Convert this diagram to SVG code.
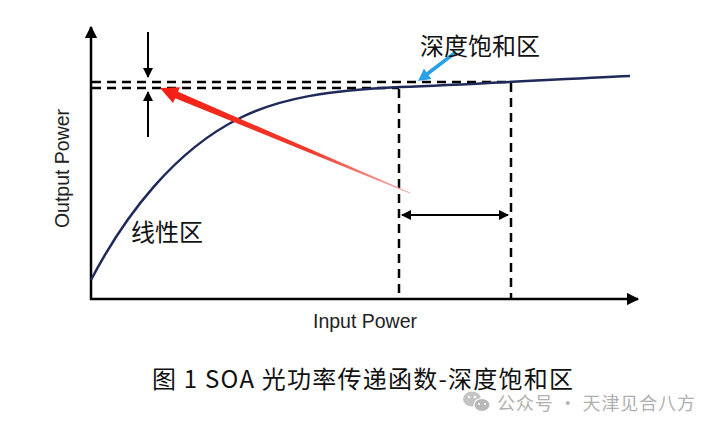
<svg xmlns="http://www.w3.org/2000/svg" width="720" height="430" viewBox="0 0 720 430">
<defs>
<style>
.axis{stroke:#000;stroke-width:2.5;fill:none}
.dash{stroke:#000;stroke-width:2.5;fill:none;stroke-dasharray:9 6}
.arr{stroke:#000;stroke-width:2;fill:none}
.cn{font-family:"Noto Sans CJK SC","Noto Sans",sans-serif;fill:#111}
.en{font-family:"Liberation Sans",Arial,sans-serif;fill:#222}
</style>
<marker id="ah" viewBox="0 0 10 10" refX="9" refY="5" markerWidth="5" markerHeight="5" orient="auto-start-reverse" markerUnits="strokeWidth">
<path d="M0,0 L10,5 L0,10 Z" fill="#000"/>
</marker>
<linearGradient id="redg" gradientUnits="userSpaceOnUse" x1="160" y1="88" x2="410" y2="193">
<stop offset="0" stop-color="#f41e14"/>
<stop offset="0.6" stop-color="#f03a2a"/>
<stop offset="1" stop-color="#f6b0b4"/>
</linearGradient>
</defs>
<rect width="720" height="430" fill="#fff"/>

<g id="axes">
<line class="axis" x1="91" y1="300" x2="91" y2="27" marker-end="url(#ah)"/>
<line class="axis" x1="90" y1="299" x2="638" y2="299" marker-end="url(#ah)"/>
</g>

<g id="guides">
<line class="dash" x1="92" y1="82" x2="512" y2="82"/>
<line class="dash" x1="92" y1="88" x2="399" y2="88"/>
<line class="dash" x1="399" y1="89" x2="399" y2="298"/>
<line class="dash" x1="511" y1="83" x2="511" y2="298"/>
</g>

<g id="curve">
<path d="M91,280 C125,215 175,150 240,118 C280,98 330,90 400,87 C480,84 560,79 630,76" fill="none" stroke="#1f2a5a" stroke-width="2.5"/>
</g>

<g id="connectors">
<line class="arr" x1="148" y1="32" x2="148" y2="77" marker-end="url(#ah)"/>
<line class="arr" x1="148" y1="137" x2="148" y2="92" marker-end="url(#ah)"/>
<line class="arr" x1="402" y1="215" x2="508" y2="215" marker-start="url(#ah)" marker-end="url(#ah)"/>
<polygon id="red-arrow" points="160,88 180,87.2 178,91.8 410.2,192.6 409.8,193.4 175.2,98.2 173,103" fill="url(#redg)"/>
<polygon id="blue-arrow" points="418,81 431.5,79 428.6,75.2 457,53.6 455,50.4 426.4,72.3 424,68.5" fill="#2aa0e8"/>
</g>

<g id="label-deep">
<text class="cn" x="420" y="55" font-size="24">深度饱和区</text>
</g>
<g id="label-linear">
<text class="cn" x="131" y="241" font-size="24">线性区</text>
</g>
<g id="label-y">
<text class="en" x="0" y="0" font-size="19.5" text-anchor="middle" transform="translate(69,168.5) rotate(-90)">Output Power</text>
</g>
<g id="label-x">
<text class="en" x="365" y="328" font-size="19.5" text-anchor="middle">Input Power</text>
</g>
<g id="caption">
<text class="cn" x="152" y="388" font-size="24" textLength="421" lengthAdjust="spacing">图 1 SOA 光功率传递函数-深度饱和区</text>
</g>
<g id="watermark">
<ellipse cx="472" cy="399" rx="9" ry="7.5" fill="#c4c4c4"/>
<ellipse cx="482" cy="405" rx="8" ry="6.5" fill="#b8b8b8" stroke="#fff" stroke-width="1.2"/>
<circle cx="469" cy="397" r="1.3" fill="#fff"/>
<circle cx="475" cy="397" r="1.3" fill="#fff"/>
<circle cx="479" cy="404" r="1.1" fill="#fff"/>
<circle cx="485" cy="404" r="1.1" fill="#fff"/>
<text x="497" y="410" font-size="18" fill="#b0b0b0" font-family="'Noto Sans CJK SC','Noto Sans',sans-serif" textLength="198" lengthAdjust="spacing">公众号 · 天津见合八方</text>
</g>
</svg>
